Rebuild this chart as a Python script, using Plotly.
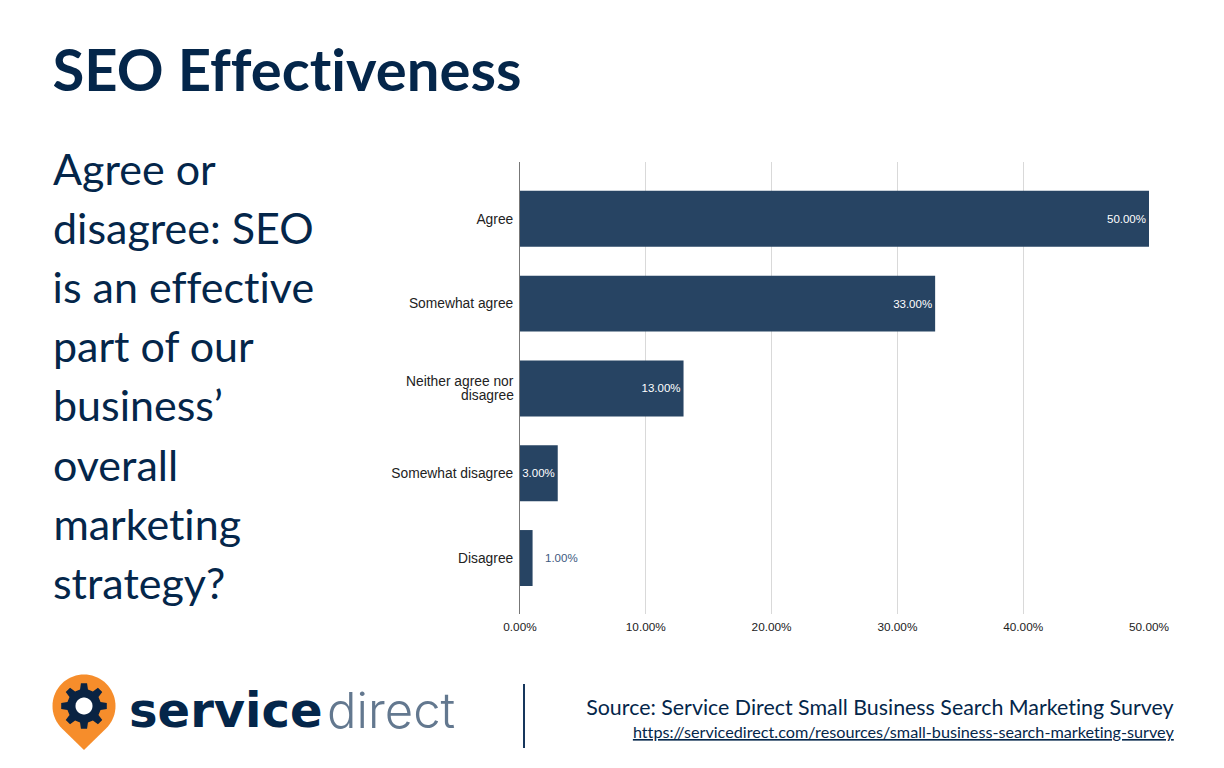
import math
import plotly.graph_objects as go

categories = ["Agree", "Somewhat agree", "Neither agree nor disagree", "Somewhat disagree", "Disagree"]
wrapped_category = ["Neither agree nor", "disagree"]
values = [50, 33, 13, 3, 1]
x_ticks = [0, 10, 20, 30, 40, 50]
question_lines = ["Agree or", "disagree: SEO", "is an effective", "part of our", "business’", "overall", "marketing", "strategy?"]

NAVY = "#04264a"
BAR = "#274463"
W, H = 1224, 768
L, R, T, B = 520, 1149, 162, 614


def px(x):
    return (x - L) / (R - L)


def py(y):
    return (B - y) / (B - T)


def path(points):
    return "M" + " L".join(f"{px(x):.5f},{py(y):.5f}" for x, y in points) + " Z"


def circle(cx, cy, r):
    return [(cx + r * math.cos(math.radians(a)), cy + r * math.sin(math.radians(a))) for a in range(0, 360, 6)]


def gear(cx, cy, outer, inner, teeth=8):
    pts = []
    step = 360 / teeth
    for i in range(teeth):
        a = i * step
        for off, r in [(-0.30, inner), (-0.17, outer), (0.17, outer), (0.30, inner)]:
            t = math.radians(a + off * step)
            pts.append((cx + r * math.cos(t), cy + r * math.sin(t)))
    return pts


def pin(cx, cy, r, tip_y):
    # circle arc running round the top, closed at the tip
    pts = [(cx + r * math.cos(math.radians(a)), cy + r * math.sin(math.radians(a))) for a in range(135, 406, 5)]
    pts.append((cx, tip_y))
    return pts


fig = go.Figure()
fig.add_bar(
    y=categories,
    x=values,
    orientation="h",
    marker_color=BAR,
    marker_line_width=0,
    text=[f"{v:.2f}%" if v > 1 else "" for v in values],
    textposition="inside",
    insidetextanchor="end",
    textangle=0,
    constraintext="none",
    textfont=dict(family="Liberation Sans", size=11.5, color="white"),
    hoverinfo="skip",
)

annotations = [
    dict(x=values[-1], y=categories[-1], xref="x", yref="y", text=f"{values[-1]:.2f}%", showarrow=False,
         xanchor="left", xshift=10, font=dict(family="Liberation Sans", size=11.5, color="#3d5a80")),
]

# tick labels have a fixed line height, the wrapped one is set tighter here
for line, shift in zip(wrapped_category, [7, -7]):
    annotations.append(dict(x=0, y=categories[2], xref="x", yref="y", text=line, showarrow=False,
                            xanchor="right", xshift=-4, yshift=shift,
                            font=dict(family="Liberation Sans", size=13.8, color="#222222")))


def label(x, y, text, size, color=NAVY, anchor="left", weight=None, family="Lato"):
    font = dict(family=family, size=size, color=color)
    if weight:
        font["weight"] = weight
    annotations.append(dict(x=px(x), y=py(y), xref="paper", yref="paper", text=text, showarrow=False,
                            xanchor=anchor, yanchor="middle", borderpad=0, borderwidth=0, font=font))


label(53, 68, "SEO Effectiveness", 58, weight=700)
for i, line in enumerate(question_lines):
    label(53, 168 + i * 59.2, line, 43)
label(1174, 707, "Source: Service Direct Small Business Search Marketing Survey", 21.4, anchor="right")
label(1174, 731, "<u>https://servicedirect.com/resources/small-business-search-marketing-survey</u>", 16.2, anchor="right")
label(129, 710, "service", 48, weight=700, family="DejaVu Sans", color="#04264a")
label(455, 710, "direct", 49, color="#63788f", weight=300, anchor="right", family="Inter")

shapes = [
    dict(type="line", xref="paper", yref="paper", x0=px(524), x1=px(524), y0=py(684), y1=py(748),
         line=dict(color="#16365c", width=2)),
    dict(type="path", xref="paper", yref="paper", path=path(pin(84, 706, 31.5, 750)),
         fillcolor="#f68d2b", line_width=0),
    dict(type="path", xref="paper", yref="paper", path=path(gear(84, 706, 23, 17)),
         fillcolor="#0a2342", line_width=0),
    dict(type="path", xref="paper", yref="paper", path=path(circle(84, 706, 8.5)),
         fillcolor="white", line_width=0),
]

fig.update_layout(
    width=W,
    height=H,
    autosize=False,
    margin=dict(l=L, r=W - R, t=T, b=H - B, pad=0),
    paper_bgcolor="white",
    plot_bgcolor="white",
    showlegend=False,
    bargap=0.34,
    annotations=annotations,
    shapes=shapes,
    font=dict(family="Liberation Sans", size=12, color="#222222"),
)
fig.update_xaxes(
    range=[0, 50],
    tickvals=x_ticks,
    ticktext=[f"{t:.2f}%" for t in x_ticks],
    showgrid=True,
    gridcolor="#d9d9d9",
    gridwidth=1,
    zeroline=False,
    showline=False,
    ticks="",
    ticklabelstandoff=4,
    tickfont=dict(size=11.8, color="#222222"),
)
fig.update_yaxes(
    range=[4.66, -0.67],
    type="category",
    categoryorder="array",
    categoryarray=categories,
    tickvals=categories,
    ticktext=["" if c == categories[2] else c for c in categories],
    showgrid=False,
    zeroline=False,
    showline=True,
    linecolor="#777777",
    linewidth=1,
    ticks="",
    ticklabelstandoff=3,
    tickfont=dict(size=13.8, color="#222222"),
)

page_css = "text { font-variant-ligatures: none !important; }"
fig.write_html(
    "out.html",
    config={"displayModeBar": False},
    post_script=(
        "document.body.style.margin = '0';"
        "var s = document.createElement('style');"
        f"s.textContent = '{page_css}';"
        "document.head.appendChild(s);"
    ),
)
